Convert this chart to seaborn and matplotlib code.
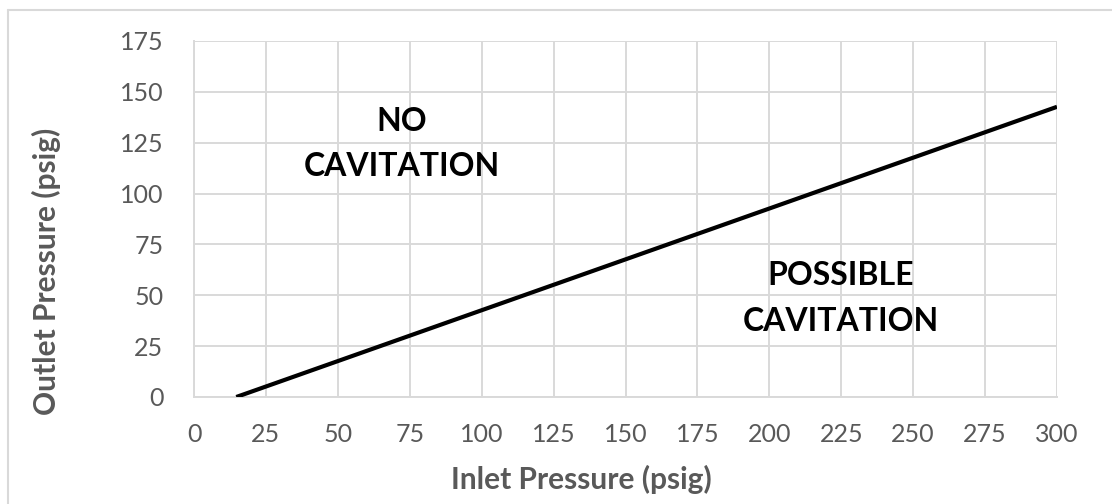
import matplotlib
matplotlib.use("Agg")
import matplotlib.pyplot as plt
import seaborn as sns
import pandas as pd
from matplotlib.lines import Line2D

# Data
inlet_pressure = [14.7, 300]
outlet_pressure = [0, 142.65]
x_ticks = [0, 25, 50, 75, 100, 125, 150, 175, 200, 225, 250, 275, 300]
y_ticks = [0, 25, 50, 75, 100, 125, 150, 175]
region_labels = [("NO", "CAVITATION"), ("POSSIBLE", "CAVITATION")]

sns.set_theme(style="whitegrid")
plt.rcParams['font.family'] = ['Lato', 'DejaVu Sans']

grid_color = "#d9d9d9"
text_gray = "#595959"

fig = plt.figure(figsize=(11.12, 5.04), dpi=100)
ax = fig.add_axes([194/1112, 107/504, 863/1112, 356/504])

df = pd.DataFrame({"Inlet": inlet_pressure, "Outlet": outlet_pressure})
sns.lineplot(data=df, x="Inlet", y="Outlet", ax=ax, color="black", linewidth=3.0,
             solid_capstyle="butt", zorder=5)

ax.set_xlim(0, 300)
ax.set_ylim(0, 175)
ax.set_xticks(x_ticks)
ax.set_yticks(y_ticks)
ax.set_xticklabels([str(t) for t in x_ticks])
ax.set_yticklabels([str(t) for t in y_ticks])
ax.grid(True, color=grid_color, linewidth=1.4)
ax.set_axisbelow(True)
for side, sp in ax.spines.items():
    if side in ("left", "bottom"):
        sp.set_visible(True)
        sp.set_color(grid_color)
        sp.set_linewidth(1.4)
    else:
        sp.set_visible(False)
ax.set_facecolor("white")

ax.tick_params(axis="both", which="both", length=0, labelsize=18, labelcolor=text_gray)
ax.tick_params(axis="y", pad=22)
ax.tick_params(axis="x", pad=19)

ax.set_xlabel("Inlet Pressure (psig)", fontsize=21.5, fontweight="bold", color=text_gray)
ax.set_ylabel("Outlet Pressure (psig)", fontsize=21.5, fontweight="bold", color=text_gray)
ax.xaxis.set_label_coords((581 - 194) / 863, (397 - 465) / 356)
ax.yaxis.set_label_coords((61 - 194) / 863, (397 - 271) / 356)

# Region annotations
fs = 23
ax.text(72.3, 135.4, region_labels[0][0], ha="center", va="center", fontsize=fs,
        fontweight="bold", color="black")
ax.text(72.3, 113.3, region_labels[0][1], ha="center", va="center", fontsize=fs,
        fontweight="bold", color="black")
ax.text(224.9, 59.5, region_labels[1][0], ha="center", va="center", fontsize=fs,
        fontweight="bold", color="black")
ax.text(224.9, 37.1, region_labels[1][1], ha="center", va="center", fontsize=fs,
        fontweight="bold", color="black")

# Outer chart border (top and left visible)
fig.add_artist(Line2D([7.5/1112, 1], [1 - 9.5/504, 1 - 9.5/504], color=grid_color,
                      linewidth=1.5, transform=fig.transFigure))
fig.add_artist(Line2D([7.5/1112, 7.5/1112], [0, 1 - 9.5/504], color=grid_color,
                      linewidth=1.5, transform=fig.transFigure))

fig.savefig("out.png", dpi=100, facecolor="white")
